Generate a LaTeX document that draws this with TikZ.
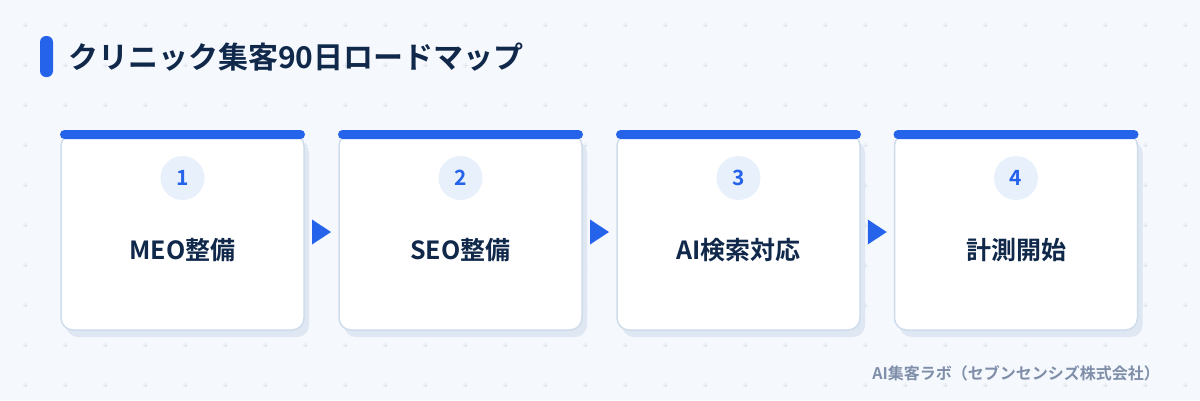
\documentclass[tikz,border=0pt]{standalone}
\usepackage{fontspec}
\newfontfamily\jpb{Noto Sans CJK JP Bold}
\usetikzlibrary{positioning}
\definecolor{bg}{HTML}{F5F8FD}
\definecolor{navy}{HTML}{10284A}
\definecolor{accent}{HTML}{2563EB}
\definecolor{cardborder}{HTML}{CFDCEC}
\definecolor{shadowc}{HTML}{DFE7F3}
\definecolor{circfill}{HTML}{E8F0FC}
\definecolor{footc}{HTML}{7F8FAA}
\definecolor{gridc}{HTML}{E0E7F1}
\tikzset{
  card/.style={draw=cardborder,line width=1.5pt,fill=white,rounded corners=12pt,minimum width=243pt,minimum height=196pt,inner sep=0pt},
  shadowbox/.style={fill=shadowc,rounded corners=12pt,minimum width=243pt,minimum height=196pt,inner sep=0pt},
  topbar/.style={fill=accent,rounded corners=4.5pt,minimum width=245pt,minimum height=9pt,inner sep=0pt},
  numcirc/.style={circle,fill=circfill,minimum size=44pt,inner sep=0pt,text=accent,font=\jpb\fontsize{21pt}{21pt}\selectfont},
  steplabel/.style={text=navy,font=\jpb\fontsize{25pt}{25pt}\selectfont,inner sep=0pt},
  arrowtri/.style={fill=accent,draw=none},
}
\begin{document}
\begin{tikzpicture}[x=1pt,y=-1pt]
\useasboundingbox (0,0) rectangle (1200,400);
\fill[bg] (0,0) rectangle (1200,400);
% grid marks
\foreach \gx in {25,65,...,1185}{
  \foreach \gy in {25,65,...,385}{
    \draw[gridc,line width=0.8pt] (\gx-2.5,\gy) -- (\gx+2.5,\gy) (\gx,\gy-2.5) -- (\gx,\gy+2.5);
  }
}
% title
\fill[accent,rounded corners=6pt] (40,36) rectangle (53,77);
\node[anchor=west,text=navy,font=\jpb\fontsize{30pt}{30pt}\selectfont,inner sep=0pt] (title) at (68,57) {クリニック集客90日ロードマップ};
% cards
\foreach \i/\cx/\lab in {1/182.5/MEO整備,2/460.5/SEO整備,3/738.5/AI検索対応,4/1016/計測開始}{
  \node[shadowbox] (sh\i) at (\cx+5,239) {};
  \node[card] (card\i) at (\cx,232) {};
  \node[topbar] (bar\i) at (\cx,134.5) {};
  \node[numcirc] (num\i) at (\cx,178) {\i};
  \node[steplabel] (lab\i) at (\cx,250) {\lab};
}
% arrows
\foreach \a/\b in {1/2,2/3,3/4}{
  \path (card\a.east) -- (card\b.west) coordinate[pos=0.5] (m\a);
  \fill[arrowtri] ([xshift=-9.5pt,yshift=-12.5pt]m\a) -- ([xshift=9.5pt]m\a) -- ([xshift=-9.5pt,yshift=12.5pt]m\a) -- cycle;
}
% footer
\node[anchor=east,text=footc,font=\jpb\fontsize{16pt}{16pt}\selectfont,inner sep=0pt] (foot) at (1160,373) {AI集客ラボ（セブンセンシズ株式会社）};
\end{tikzpicture}
\end{document}
